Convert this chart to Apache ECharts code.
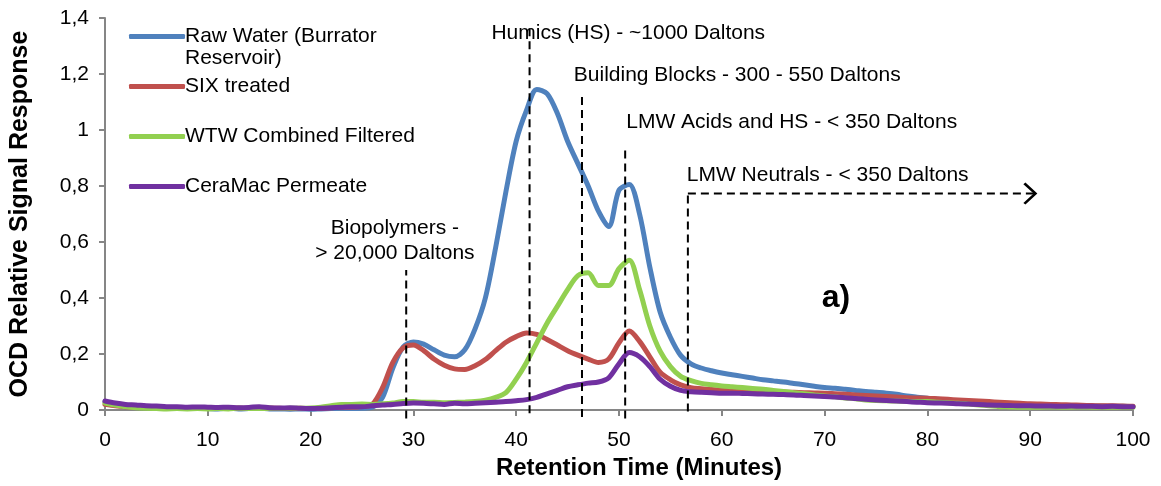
<!DOCTYPE html>
<html>
<head>
<meta charset="utf-8">
<script src="https://cdn.jsdelivr.net/npm/echarts@6/dist/echarts.min.js"></script>
<style>
  html, body { margin: 0; padding: 0; background: #ffffff; }
  #chart { width: 1161px; height: 486px; }
</style>
</head>
<body>
<div id="chart"></div>
<script>
// Retention time in minutes (x values shared by all traces)
const retentionTime = [
  0, 1, 2, 3, 4, 5, 6, 7, 8, 9,
  10, 11, 12, 13, 14, 15, 16, 17, 18, 19,
  20, 21, 22, 23, 24, 25, 26, 27, 28, 29,
  30, 31, 32, 33, 34, 35, 36, 37, 38, 39,
  40, 41, 42, 43, 44, 45, 46, 47, 48, 49,
  50, 51, 52, 53, 54, 55, 56, 57, 58, 59,
  60, 61, 62, 63, 64, 65, 66, 67, 68, 69,
  70, 71, 72, 73, 74, 75, 76, 77, 78, 79,
  80, 81, 82, 83, 84, 85, 86, 87, 88, 89,
  90, 91, 92, 93, 94, 95, 96, 97, 98, 99,
  100
];

// OCD relative signal response per sample
const rawWater = [
  0.030, 0.022, 0.016, 0.012, 0.010, 0.008, 0.007, 0.007, 0.006, 0.006,
  0.005, 0.004, 0.006, 0.004, 0.005, 0.006, 0.004, 0.004, 0.003, 0.004,
  0.003, 0.004, 0.005, 0.006, 0.005, 0.006, 0.010, 0.045, 0.150, 0.225,
  0.243, 0.235, 0.215, 0.196, 0.190, 0.215, 0.290, 0.400, 0.580, 0.780,
  0.960, 1.070, 1.145, 1.130, 1.060, 0.960, 0.880, 0.800, 0.710, 0.655,
  0.785, 0.805, 0.700, 0.510, 0.350, 0.260, 0.195, 0.165, 0.150, 0.140,
  0.132, 0.126, 0.120, 0.114, 0.108, 0.104, 0.100, 0.095, 0.090, 0.085,
  0.080, 0.078, 0.074, 0.070, 0.066, 0.063, 0.060, 0.056, 0.050, 0.046,
  0.042, 0.038, 0.035, 0.032, 0.030, 0.027, 0.024, 0.022, 0.020, 0.019,
  0.018, 0.017, 0.016, 0.016, 0.015, 0.015, 0.014, 0.014, 0.013, 0.013,
  0.012
];

const sixTreated = [
  0.020, 0.015, 0.012, 0.010, 0.009, 0.008, 0.008, 0.007, 0.008, 0.007,
  0.006, 0.007, 0.006, 0.007, 0.006, 0.006, 0.007, 0.006, 0.005, 0.006,
  0.005, 0.006, 0.008, 0.010, 0.010, 0.012, 0.020, 0.080, 0.170, 0.222,
  0.232, 0.212, 0.182, 0.160, 0.147, 0.145, 0.158, 0.180, 0.212, 0.242,
  0.262, 0.275, 0.270, 0.252, 0.232, 0.212, 0.196, 0.182, 0.170, 0.182,
  0.240, 0.282, 0.245, 0.190, 0.135, 0.108, 0.090, 0.080, 0.076, 0.073,
  0.070, 0.069, 0.068, 0.067, 0.066, 0.065, 0.064, 0.063, 0.062, 0.061,
  0.060, 0.058, 0.056, 0.054, 0.052, 0.050, 0.048, 0.046, 0.044, 0.043,
  0.042, 0.040, 0.038, 0.036, 0.034, 0.032, 0.030, 0.028, 0.026, 0.024,
  0.022, 0.021, 0.020, 0.019, 0.018, 0.017, 0.016, 0.015, 0.015, 0.014,
  0.013
];

const wtwFiltered = [
  0.025, 0.018, 0.012, 0.008, 0.006, 0.005, 0.004, 0.005, 0.004, 0.005,
  0.004, 0.005, 0.004, 0.006, 0.005, 0.005, 0.006, 0.005, 0.006, 0.006,
  0.007, 0.010, 0.015, 0.020, 0.020, 0.021, 0.020, 0.022, 0.025, 0.030,
  0.030, 0.028, 0.028, 0.026, 0.027, 0.028, 0.030, 0.035, 0.045, 0.062,
  0.110, 0.170, 0.240, 0.310, 0.370, 0.430, 0.480, 0.490, 0.445, 0.445,
  0.505, 0.535, 0.430, 0.300, 0.210, 0.155, 0.120, 0.105, 0.095, 0.090,
  0.086, 0.083, 0.080, 0.077, 0.074, 0.070, 0.066, 0.062, 0.058, 0.054,
  0.050, 0.047, 0.043, 0.040, 0.036, 0.034, 0.033, 0.032, 0.031, 0.030,
  0.030, 0.028, 0.026, 0.024, 0.021, 0.018, 0.015, 0.012, 0.011, 0.010,
  0.010, 0.010, 0.011, 0.010, 0.010, 0.011, 0.010, 0.010, 0.010, 0.010,
  0.010
];

const ceraMac = [
  0.032, 0.025, 0.020, 0.018, 0.015, 0.014, 0.012, 0.012, 0.010, 0.011,
  0.010, 0.009, 0.010, 0.008, 0.009, 0.012, 0.008, 0.007, 0.008, 0.006,
  0.005, 0.006, 0.008, 0.010, 0.012, 0.012, 0.015, 0.018, 0.020, 0.023,
  0.025, 0.024, 0.022, 0.020, 0.024, 0.022, 0.024, 0.026, 0.028, 0.030,
  0.033, 0.037, 0.045, 0.058, 0.070, 0.083, 0.090, 0.096, 0.100, 0.115,
  0.165, 0.205, 0.190, 0.155, 0.110, 0.085, 0.070, 0.065, 0.063, 0.062,
  0.060, 0.060, 0.059, 0.058, 0.057, 0.056, 0.055, 0.054, 0.052, 0.050,
  0.048, 0.046, 0.044, 0.041, 0.038, 0.036, 0.034, 0.032, 0.030, 0.028,
  0.026, 0.025, 0.024, 0.022, 0.021, 0.020, 0.018, 0.017, 0.016, 0.015,
  0.015, 0.014, 0.014, 0.013, 0.014, 0.013, 0.013, 0.012, 0.013, 0.012,
  0.012
];

const seriesNames = [
  'Raw Water (Burrator Reservoir)',
  'SIX treated',
  'WTW Combined Filtered',
  'CeraMac Permeate'
];
const seriesColors = ['#4F81BD', '#C0504D', '#92D050', '#7030A0'];

// Fraction boundaries (dashed guide lines): time, top level, bottom level
const fractionTimes = [29.3, 41.3, 46.4, 50.6, 56.7];
const fractionTops = [0.50, 1.38, 1.125, 0.945, 0.773];
const fractionBottoms = [-0.03, -0.012, -0.025, -0.03, -0.005];

// LMW Neutrals arrow: runs from the last guide line to this time
const neutralsArrowEnd = 90.6;

// Fraction labels and their anchor positions (time, level)
const fractionLabels = [
  'Biopolymers -\n> 20,000 Daltons',
  'Humics (HS) - ~1000 Daltons',
  'Building Blocks - 300 - 550 Daltons',
  'LMW Acids and HS - < 350 Daltons',
  'LMW Neutrals - < 350 Daltons'
];
const fractionLabelTimes = [28.2, 50.9, 61.5, 66.8, 70.3];
const fractionLabelLevels = [0.606, 1.345, 1.195, 1.027, 0.837];

const panelTag = 'a)';
const panelTagAt = [71.1, 0.40];

const yTicks = [0, 0.2, 0.4, 0.6, 0.8, 1, 1.2, 1.4];

const FONT = '"Liberation Sans", Arial, sans-serif';

const chart = echarts.init(document.getElementById('chart'), null, { renderer: 'canvas' });

const pair = (ys) => retentionTime.map((t, i) => [t, ys[i]]);
const traces = [rawWater, sixTreated, wtwFiltered, ceraMac];

const dataSeries = traces.map((ys, i) => ({
  name: seriesNames[i],
  type: 'line',
  data: pair(ys),
  showSymbol: false,
  symbol: 'none',
  smooth: 0.3,
  z: 2 + i,
  lineStyle: { color: seriesColors[i], width: 5, cap: 'round', join: 'round' },
  itemStyle: { color: seriesColors[i] },
  emphasis: { disabled: true }
}));

const dashStyle = { color: '#000000', width: 2, type: [8, 5] };

const guideSeries = fractionTimes.map((t, i) => ({
  name: 'guide' + i,
  type: 'line',
  data: [[t, fractionBottoms[i]], [t, fractionTops[i]]],
  symbol: 'none',
  clip: false,
  silent: true,
  z: 10,
  lineStyle: dashStyle,
  emphasis: { disabled: true }
}));

const arrowSeries = {
  name: 'neutralsArrow',
  type: 'line',
  data: [
    { value: [fractionTimes[4], fractionTops[4]], symbol: 'none' },
    {
      value: [neutralsArrowEnd, fractionTops[4]],
      symbol: 'path://M0,1.6 L2.2,0 L15,11 L2.2,22 L0,20.4 L11,11 Z',
      symbolSize: [14, 22],
      symbolOffset: [-6, 0]
    }
  ],
  showSymbol: true,
  clip: false,
  silent: true,
  z: 10,
  itemStyle: { color: '#000000' },
  lineStyle: dashStyle,
  emphasis: { disabled: true }
};

const option = {
  animation: false,
  backgroundColor: '#ffffff',
  textStyle: { fontFamily: FONT },
  grid: { left: 105, right: 28, top: 18, bottom: 76, containLabel: false, outerBoundsMode: 'none' },
  legend: {
    data: seriesNames,
    orient: 'vertical',
    left: 124,
    top: 21,
    itemGap: 29,
    itemWidth: 56,
    itemHeight: 5,
    icon: 'roundRect',
    selectedMode: false,
    formatter: (name) => name === seriesNames[0] ? 'Raw Water (Burrator' : name,
    textStyle: { fontFamily: FONT, fontSize: 21, color: '#000000', padding: [0, 0, 0, -5] }
  },
  xAxis: {
    type: 'value',
    min: 0,
    max: 100,
    interval: 10,
    name: 'Retention Time (Minutes)',
    nameLocation: 'middle',
    nameGap: 44,
    nameTextStyle: {
      fontFamily: FONT, fontSize: 24, fontWeight: 'bold', color: '#000000',
      padding: [0, 0, 0, 40]
    },
    axisLine: { onZero: false, lineStyle: { color: '#868686', width: 2 } },
    axisTick: { length: 6, lineStyle: { color: '#868686', width: 2 } },
    axisLabel: { fontFamily: FONT, fontSize: 21, color: '#000000', margin: 20 },
    splitLine: { show: false }
  },
  yAxis: {
    type: 'value',
    min: 0,
    max: 1.4,
    interval: 0.2,
    name: 'OCD Relative Signal Response',
    nameLocation: 'middle',
    nameGap: 72,
    nameTextStyle: { fontFamily: FONT, fontSize: 25, fontWeight: 'bold', color: '#000000' },
    axisLine: { show: true, lineStyle: { color: '#868686', width: 2 } },
    axisTick: { show: true, length: 6, lineStyle: { color: '#868686', width: 2 } },
    axisLabel: {
      fontFamily: FONT,
      fontSize: 21,
      color: '#000000',
      margin: 16,
      formatter: (v) => {
        const tick = yTicks.find((t) => Math.abs(t - v) < 1e-6);
        return String(tick !== undefined ? tick : v).replace('.', ',');
      }
    },
    splitLine: { show: false }
  },
  series: [...dataSeries, ...guideSeries, arrowSeries]
};

chart.setOption(option);

// Text notes placed at data positions
const toPx = (t, v) => chart.convertToPixel({ gridIndex: 0 }, [t, v]);
const notes = fractionLabels.map((txt, i) => {
  const p = toPx(fractionLabelTimes[i], fractionLabelLevels[i]);
  return {
    type: 'text',
    x: p[0],
    y: p[1],
    z: 20,
    silent: true,
    style: {
      text: txt,
      font: '21px ' + FONT,
      fill: '#000000',
      align: 'center',
      verticalAlign: 'middle',
      lineHeight: 25
    }
  };
});
const tagPx = toPx(panelTagAt[0], panelTagAt[1]);
notes.push({
  type: 'text',
  x: tagPx[0],
  y: tagPx[1],
  z: 20,
  silent: true,
  style: {
    text: panelTag,
    font: 'bold 32px ' + FONT,
    fill: '#000000',
    align: 'center',
    verticalAlign: 'middle'
  }
});
// Second line of the first legend entry
notes.push({
  type: 'text',
  x: 185,
  y: 58,
  z: 20,
  silent: true,
  style: {
    text: 'Reservoir)',
    font: '21px ' + FONT,
    fill: '#000000',
    align: 'left',
    verticalAlign: 'middle'
  }
});

chart.setOption({ graphic: { elements: notes } });
</script>
</body>
</html>
